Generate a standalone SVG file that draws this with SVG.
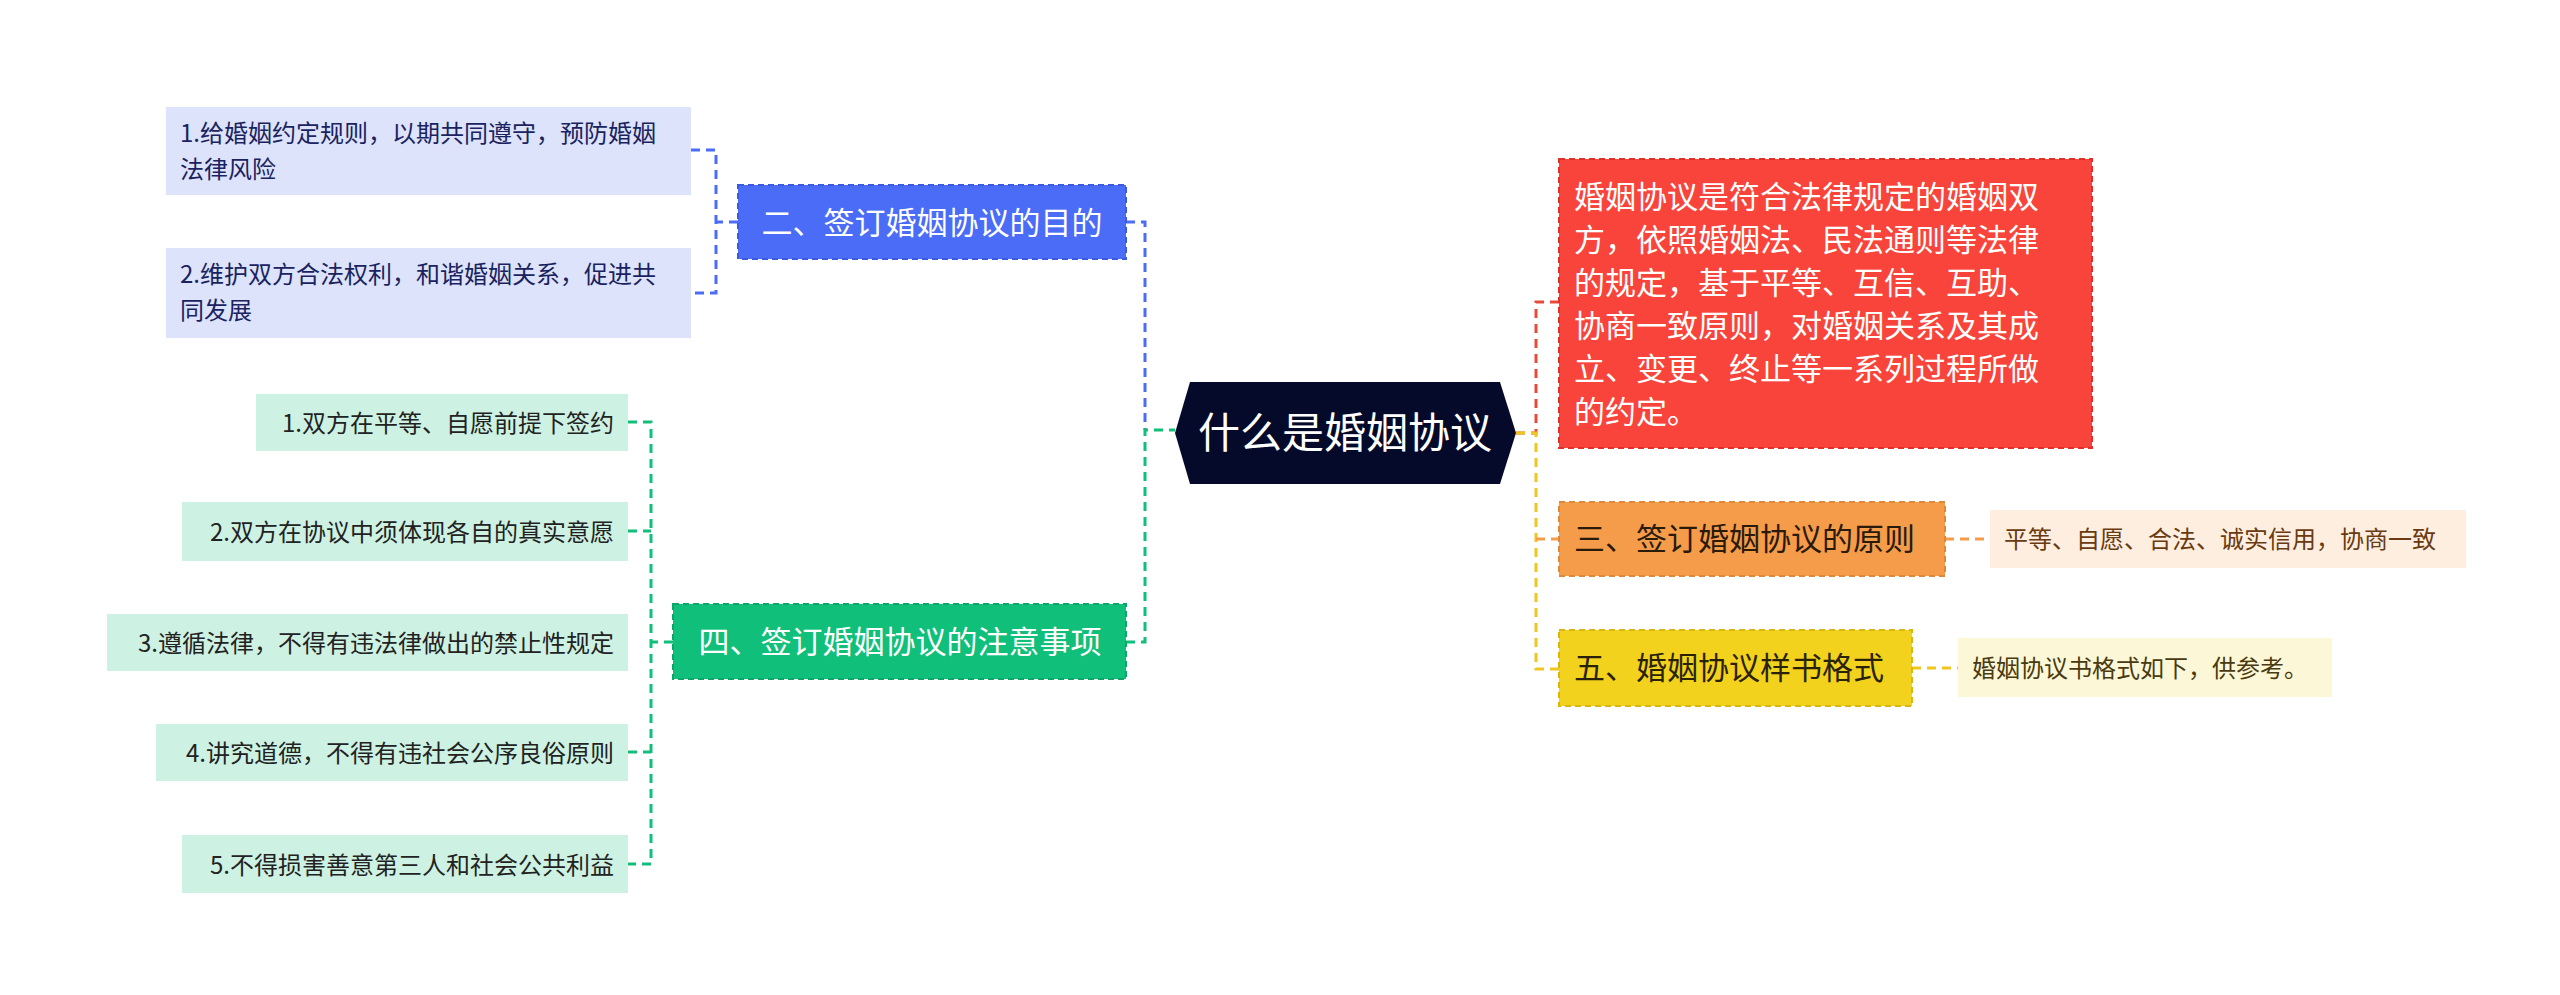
<svg xmlns="http://www.w3.org/2000/svg" width="2560" height="995" viewBox="0 0 2560 995">
<style>
text{font-family:"Noto Sans CJK SC","Liberation Sans",sans-serif}
.c{fill:none;stroke-width:3;stroke-dasharray:9 6}
.nb{stroke-width:2;stroke-dasharray:6 4}
</style>
<rect width="2560" height="995" fill="#fff"/>
<g id="connectors">
<path class="c" stroke="#4a6cf7" d="M1126 222 H1145 V430"/>
<path class="c" stroke="#10bf7a" d="M1126 642 H1145 V430 H1175"/>
<path class="c" stroke="#4a6cf7" d="M738 222 H716 M691 150 H716 V293 H691"/>
<path class="c" stroke="#10bf7a" d="M673 642 H651 M628 422 H651 V864 H628 M628 531 H651 M628 752 H651"/>
<path class="c" stroke="#e84a3a" d="M1516 433 H1536 V302 H1559"/>
<path class="c" stroke="#f0c61e" d="M1516 433 H1536 V669 H1559"/>
<path class="c" stroke="#f59c4a" d="M1536 539 H1559"/>
<path class="c" stroke="#f59c4a" d="M1945 539 H1990"/>
<path class="c" stroke="#f0c61e" d="M1912 668 H1958"/>
</g>
<g id="root"><polygon points="1190,382 1500,382 1516,433 1500,484 1190,484 1175,433" fill="#050a2a"/>
<text x="1345" y="448" font-size="42" fill="#fff" text-anchor="middle">什么是婚姻协议</text></g>
<g id="n2"><rect x="738" y="185" width="388" height="74" fill="#4a6cf7" class="nb" stroke="#3a5ae0"/>
<text x="932" y="234" font-size="31" fill="#fff" text-anchor="middle">二、签订婚姻协议的目的</text></g>
<g id="n2a"><rect x="166" y="107" width="525" height="88" fill="#dce3fb"/>
<text font-size="24" fill="#1a2260"><tspan x="180" y="142">1.给婚姻约定规则，以期共同遵守，预防婚姻</tspan><tspan x="180" y="178">法律风险</tspan></text></g>
<g id="n2b"><rect x="166" y="248" width="525" height="90" fill="#dce3fb"/>
<text font-size="24" fill="#1a2260"><tspan x="180" y="283">2.维护双方合法权利，和谐婚姻关系，促进共</tspan><tspan x="180" y="319">同发展</tspan></text></g>
<g id="n4"><rect x="673" y="604" width="453" height="75" fill="#10bf7a" class="nb" stroke="#0aa868"/>
<text x="900" y="653" font-size="31" fill="#fff" text-anchor="middle">四、签订婚姻协议的注意事项</text></g>
<g id="n4a"><rect x="256" y="394" width="372" height="57" fill="#cdf2e3"/><text x="614" y="432" font-size="24" fill="#222" text-anchor="end">1.双方在平等、自愿前提下签约</text></g>
<g id="n4b"><rect x="182" y="502" width="446" height="59" fill="#cdf2e3"/><text x="614" y="541" font-size="24" fill="#222" text-anchor="end">2.双方在协议中须体现各自的真实意愿</text></g>
<g id="n4c"><rect x="107" y="614" width="521" height="57" fill="#cdf2e3"/><text x="614" y="652" font-size="24" fill="#222" text-anchor="end">3.遵循法律，不得有违法律做出的禁止性规定</text></g>
<g id="n4d"><rect x="156" y="724" width="472" height="57" fill="#cdf2e3"/><text x="614" y="762" font-size="24" fill="#222" text-anchor="end">4.讲究道德，不得有违社会公序良俗原则</text></g>
<g id="n4e"><rect x="182" y="835" width="446" height="58" fill="#cdf2e3"/><text x="614" y="874" font-size="24" fill="#222" text-anchor="end">5.不得损害善意第三人和社会公共利益</text></g>
<g id="n1"><rect x="1559" y="159" width="533" height="289" fill="#f8443a" class="nb" stroke="#e0302a"/>
<text font-size="31" fill="#fff"><tspan x="1574" y="208">婚姻协议是符合法律规定的婚姻双</tspan><tspan x="1574" y="251">方，依照婚姻法、民法通则等法律</tspan><tspan x="1574" y="294">的规定，基于平等、互信、互助、</tspan><tspan x="1574" y="337">协商一致原则，对婚姻关系及其成</tspan><tspan x="1574" y="380">立、变更、终止等一系列过程所做</tspan><tspan x="1574" y="423">的约定。</tspan></text></g>
<g id="n3"><rect x="1559" y="502" width="386" height="74" fill="#f59c4a" class="nb" stroke="#e0883a"/>
<text x="1574" y="550" font-size="31" fill="#2a1a0a">三、签订婚姻协议的原则</text></g>
<g id="n3a"><rect x="1990" y="510" width="476" height="58" fill="#fdeee0"/>
<text x="2004" y="548" font-size="24" fill="#6a3a10">平等、自愿、合法、诚实信用，协商一致</text></g>
<g id="n5"><rect x="1559" y="630" width="353" height="76" fill="#f2d21c" class="nb" stroke="#d8b810"/>
<text x="1574" y="679" font-size="31" fill="#2a2208">五、婚姻协议样书格式</text></g>
<g id="n5a"><rect x="1958" y="638" width="374" height="59" fill="#fcf7d6"/>
<text x="1972" y="677" font-size="24" fill="#4a3a10">婚姻协议书格式如下，供参考。</text></g>
</svg>
